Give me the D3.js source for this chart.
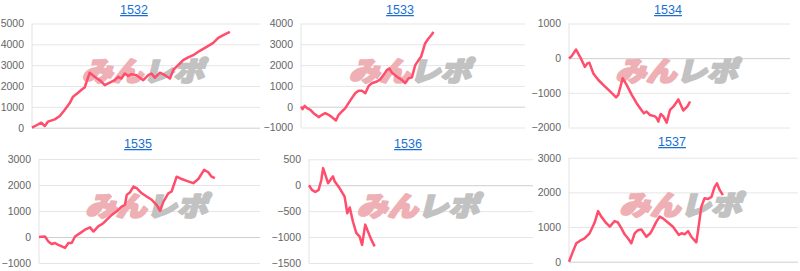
<!DOCTYPE html>
<html>
<head>
<meta charset="utf-8">
<script src="https://cdn.jsdelivr.net/npm/d3@7"></script>
<style>
	body { margin: 0; background: #fff; }
	svg { display: block; font-family: Arial, "Liberation Sans", sans-serif; }
</style>
</head>
<body>
<svg id="chart" width="800" height="271"></svg>
<script>
// titles and y ticks of the six panels
const titles = ['1532', '1533', '1534', '1535', '1536', '1537'];
const yTicks = [
	[0, 1000, 2000, 3000, 4000, 5000],
	[-1000, 0, 1000, 2000, 3000, 4000],
	[-2000, -1000, 0, 1000],
	[-1000, 0, 1000, 2000, 3000],
	[-1500, -1000, -500, 0, 500],
	[0, 1000, 2000, 3000]
];

// [progress, balance]
const series1532 = [[0,0],[2.2,130],[4.1,240],[5.6,80],[7,290],[10,400],[12.2,560],[14.3,850],[16.5,1170],[18,1490],
	[20.2,1680],[22.4,1880],[23.1,1930],[25.3,2640],[27.5,2440],[29.7,2280],[31.9,2040],[34.1,2160],[36.3,2280],
	[37.8,2440],[39.2,2360],[40.7,2600],[42.2,2480],[43.6,2570],[45.8,2520],[48.8,2280],[51,2520],[52.4,2600],
	[53.9,2400],[56.1,2640],[58.3,2520],[60.5,2360],[61.9,2760],[64.1,3000],[66.3,3240],[68.5,3370],[70.7,3480],
	[73.6,3690],[76.6,3880],[79.5,4070],[81.7,4310],[83.9,4440],[86.8,4600]];
const series1533 = [[0,0],[0.7,-120],[1.6,40],[2.7,-70],[4.2,-150],[5.6,-310],[7.9,-500],[9.4,-390],[10.8,-310],
	[12.3,-390],[13.8,-500],[15.6,-660],[16.8,-390],[18.3,-230],[19.8,-70],[21.2,170],[22.7,410],[24.2,650],
	[25.7,770],[27.2,770],[28.7,650],[30.2,1000],[31.6,1130],[33.9,1210],[35.4,1320],[36.8,1520],[38.3,1760],
	[39.4,1840],[40.6,1640],[42.8,1440],[45,1290],[46.5,1130],[48,1360],[49.5,1410],[51,2000],[52.5,2240],
	[53.6,2400],[55.4,3040],[56.9,3280],[58.4,3470],[59.1,3600]];
const series1534 = [[0,-10],[1.2,60],[3.2,250],[5,40],[7.2,-250],[8.3,-150],[9.2,-130],[11,-440],[13.3,-630],
	[15.5,-770],[18.6,-960],[21.3,-1130],[22.3,-1060],[24.3,-580],[26.1,-770],[28.4,-1060],[30.6,-1300],
	[32.9,-1510],[33.9,-1590],[35.1,-1540],[36.7,-1640],[38.9,-1680],[39.7,-1730],[40.4,-1830],[41.5,-1610],
	[42.7,-1680],[44.2,-1860],[45.7,-1490],[47.2,-1400],[49.5,-1190],[51.7,-1510],[53.5,-1400],[54.8,-1250]];
const series1535 = [[0,0],[1.2,10],[2.7,20],[4.2,-170],[5.7,-270],[7.2,-230],[8.7,-300],[10.3,-360],[11.8,-420],
	[13.3,-230],[14.8,-230],[16.3,20],[18.6,150],[20.8,280],[23.1,370],[24.6,210],[26.8,410],[29.1,530],
	[30.6,660],[32.9,850],[35.1,980],[37.4,1170],[38.9,1240],[39.7,1620],[41.2,1720],[42.7,1940],[44.2,1880],
	[46.5,1680],[48.7,1560],[51,1430],[53.2,1240],[54.8,1010],[56.3,1360],[58.5,1680],[60,1750],[62.3,2320],
	[64.6,2230],[66.8,2160],[69.8,2070],[72.1,2230],[74.7,2580],[76.6,2490],[78.1,2320],[79.6,2260]];
const series1536 = [[0,0],[1.3,-90],[2.8,-130],[4.3,-90],[5.5,100],[6.3,330],[7.3,200],[8.5,40],[10,130],
	[10.7,170],[11.5,70],[13.7,-60],[15.9,-220],[17.1,-540],[18.2,-430],[19.6,-700],[21.1,-920],[22.6,-990],
	[23.7,-1150],[25.1,-760],[26.3,-890],[27.8,-1050],[29.3,-1180]];
const series1537 = [[0,0],[1.7,290],[3.2,530],[4.7,600],[6.8,670],[9,820],[11.2,1130],[12.7,1460],[14.1,1300],
	[16.3,1110],[17.8,1010],[19.9,1170],[21.4,1130],[22.9,960],[24.3,790],[25.8,670],[27.2,530],[28.7,820],
	[30.1,910],[31.6,930],[33.8,720],[35.5,820],[36.7,960],[38.1,1150],[39.6,1300],[41,1250],[43.2,1130],
	[45.4,1010],[46.9,870],[48,770],[49.1,820],[50.5,790],[52,880],[53.4,720],[55.6,560],[56.3,870],[57.8,1590],
	[59.2,1830],[60.7,1810],[62.2,1870],[63.6,2160],[64.6,2260],[65.8,2070],[67.2,1920]];
const allSeries = [series1532, series1533, series1534, series1535, series1536, series1537];

const ChartPane = {
	// plot boxes of the panels: left, right, top, bottom, title x, title baseline
	boxes: [
		{ left: 32, right: 260, top: 23.5, bottom: 127.7, tx: 134, ty: 14 },
		{ left: 301, right: 525, top: 23.5, bottom: 127.5, tx: 400, ty: 14 },
		{ left: 569, right: 790, top: 23.5, bottom: 127.5, tx: 668, ty: 14 },
		{ left: 39, right: 260, top: 159, bottom: 263, tx: 138, ty: 148 },
		{ left: 309, right: 533, top: 159.3, bottom: 263, tx: 408, ty: 148 },
		{ left: 569, right: 798, top: 157.7, bottom: 261.7, tx: 672, ty: 146 }
	],
	lineColor: '#ff4d6b',
	gridColor: '#e6e6e6',
	baselineColor: '#cfcfcf',

	draw: function() {
		const self = this;
		var svg = d3.select('#chart');

		for (var i = 0; i < titles.length; i++)
			self.drawPanel(svg.append('g').attr('class', 'panel'), i);
	},
	drawPanel: function(g, i) {
		const self = this;
		var box = self.boxes[i];
		var ticks = yTicks[i];
		var data = allSeries[i];

		var x = d3.scaleLinear().domain([0, 100]).range([box.left, box.right]);
		var y = d3.scaleLinear()
			.domain([ticks[0], ticks[ticks.length - 1]])
			.range([box.bottom, box.top]);

		// title
		g.append('text')
			.attr('x', box.tx)
			.attr('y', box.ty)
			.attr('text-anchor', 'middle')
			.attr('font-size', 12.5)
			.attr('fill', '#1a6fd2')
			.style('text-decoration', 'underline')
			.text(titles[i]);

		// grid
		var axis = d3.axisLeft(y)
			.tickValues(ticks)
			.tickSize(-(box.right - box.left))
			.tickPadding(8)
			.tickFormat(d3.format('d'));
		var axisG = g.append('g')
			.attr('transform', 'translate(' + [ box.left, 0 ] + ')')
			.call(axis);
		axisG.select('.domain').remove();
		axisG.selectAll('.tick line')
			.attr('stroke', function(d) { return d == 0 ? self.baselineColor : self.gridColor });
		axisG.selectAll('.tick text')
			.attr('fill', '#666')
			.attr('font-size', 10.5)
			.attr('font-family', 'Arial, "Liberation Sans", sans-serif');

		g.append('line')
			.attr('x1', box.left).attr('x2', box.left)
			.attr('y1', box.top).attr('y2', box.bottom)
			.attr('stroke', '#e2e2e2');

		// watermark
		var cx = (box.left + box.right) / 2;
		var cy = (box.top + box.bottom) / 2 - 6.5;
		var mark = g.append('g')
			.attr('transform', 'translate(' + [ cx, cy ] + ') skewX(-14)');
		var markText = mark.append('text')
			.attr('text-anchor', 'middle')
			.attr('dominant-baseline', 'central')
			.attr('font-family', '"Noto Sans CJK JP", sans-serif')
			.attr('font-weight', 900)
			.attr('font-size', 27)
			.attr('stroke-width', 2.2)
			.attr('stroke-linejoin', 'round')
			.attr('textLength', 122)
			.attr('lengthAdjust', 'spacingAndGlyphs');
		markText.append('tspan').attr('fill', '#eeb0b4').attr('stroke', '#eeb0b4').text('みん');
		markText.append('tspan').attr('fill', '#c2c2c2').attr('stroke', '#c2c2c2').text('レポ');

		// line
		var line = d3.line()
			.x(function(d) { return x(d[0]) })
			.y(function(d) { return y(d[1]) });
		g.append('path')
			.datum(data)
			.attr('d', line)
			.attr('fill', 'none')
			.attr('stroke', self.lineColor)
			.attr('stroke-width', 2.5)
			.attr('stroke-linejoin', 'round');
	}
}

ChartPane.draw();
</script>
</body>
</html>
